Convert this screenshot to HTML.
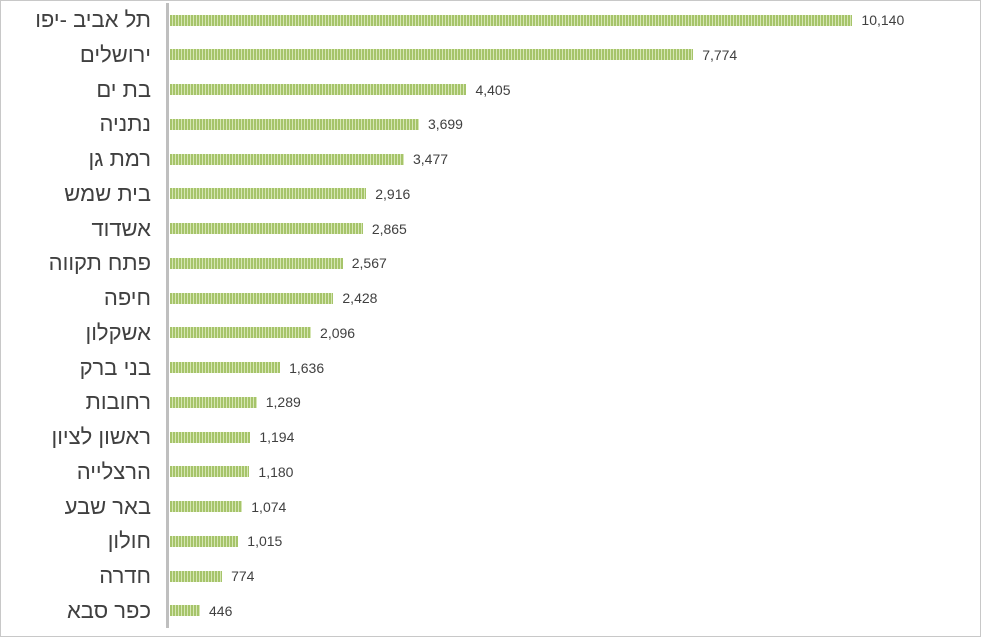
<!DOCTYPE html>
<html><head><meta charset="utf-8"><style>
body{margin:0;width:981px;height:637px;background:#fff;position:relative;overflow:hidden;font-family:"Liberation Sans","Noto Sans CJK SC",sans-serif}
.frame{position:absolute;left:0;top:0;width:979px;height:635px;border:1px solid #c8c8c8}
.axis{position:absolute;left:166px;top:3px;width:3px;height:625px;background:#bfbfbf}
.lab{position:absolute;right:830px;font-size:22px;color:#404040;direction:rtl;white-space:nowrap;line-height:26px}
.bar{position:absolute;left:170px;height:11px;background:repeating-linear-gradient(90deg,#a6c46a 0 2px,#d6e6b4 2px 3px)}
.val{position:absolute;font-size:14px;color:#404040;line-height:16px}
</style></head><body>
<div class="frame"></div>
<div class="axis"></div>
<div id="c"></div>
<script>
var d=[["תל אביב -יפו",10140],["ירושלים",7774],["בת ים",4405],["נתניה",3699],["רמת גן",3477],["בית שמש",2916],["אשדוד",2865],["פתח תקווה",2567],["חיפה",2428],["אשקלון",2096],["בני ברק",1636],["רחובות",1289],["ראשון לציון",1194],["הרצלייה",1180],["באר שבע",1074],["חולון",1015],["חדרה",774],["כפר סבא",446]];
var h="";
d.forEach(function(r,i){var y=20+i*34.76;var w=r[1]*0.0673;
h+='<div class="lab" style="top:'+(y-13)+'px">'+r[0]+'</div>';
h+='<div class="bar" style="top:'+(y-5.5)+'px;width:'+w+'px"></div>';
h+='<div class="val" style="top:'+(y-8)+'px;left:'+(170+w+9)+'px">'+r[1].toLocaleString("en-US")+'</div>';});
document.getElementById("c").innerHTML=h;
</script>
</body></html>
